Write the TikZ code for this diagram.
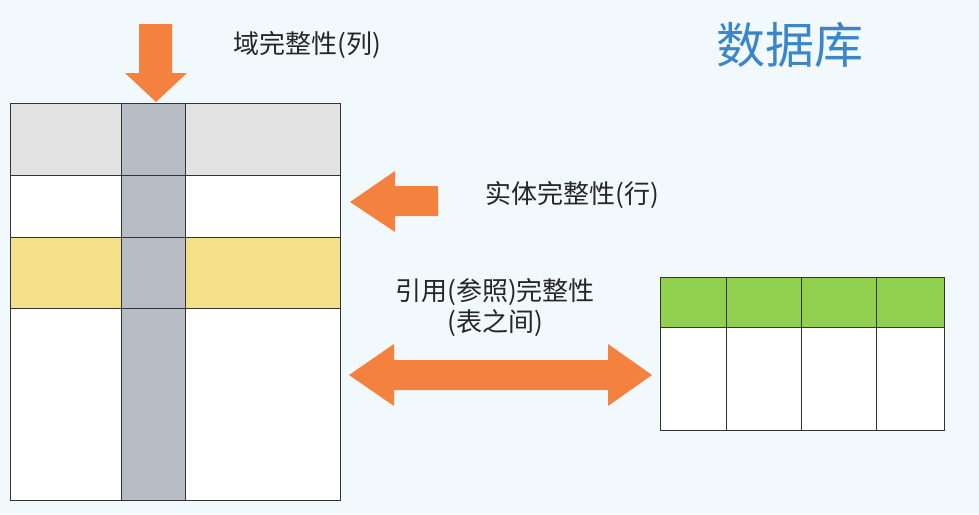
\documentclass[tikz,border=0pt]{standalone}
\usepackage{fontspec}
\setmainfont{Noto Sans CJK SC}
\definecolor{bgblue}{HTML}{F2F9FC}
\definecolor{arroworange}{HTML}{F5813F}
\definecolor{cellgray}{HTML}{E3E3E3}
\definecolor{colgray}{HTML}{B8BCC4}
\definecolor{rowyellow}{HTML}{F5E08A}
\definecolor{headgreen}{HTML}{92D050}
\definecolor{titleblue}{HTML}{3A86C8}
\begin{document}
\begin{tikzpicture}[x=1pt,y=-1pt]
    \tikzstyle{cell}  = [draw=black!80,line width=1pt]
    \tikzstyle{label} = [font=\fontsize{26}{31}\selectfont,text=black!85]
    \tikzstyle{arrowbody} = [fill=arroworange,draw=none]
    \fill[bgblue] (0,0) rectangle (979,514);
    \useasboundingbox (0,0) rectangle (979,514);
    % left table
    \fill[cellgray] (10,103) rectangle (340,175);
    \fill[rowyellow] (10,237) rectangle (340,308);
    \fill[white] (10,175) rectangle (340,237);
    \fill[white] (10,308) rectangle (340,500);
    \fill[colgray] (121,103) rectangle (185,500);
    \draw[cell] (10,103) rectangle (340,500);
    \foreach \y in {175,237,308} \draw[cell] (10,\y) -- (340,\y);
    \foreach \x in {121,185} \draw[cell] (\x,103) -- (\x,500);
    % right table
    \fill[white] (660,327) rectangle (944,430);
    \fill[headgreen] (660,277) rectangle (944,327);
    \draw[cell] (660,277) rectangle (944,430);
    \draw[cell] (660,327) -- (944,327);
    \foreach \x in {726,801,876} \draw[cell] (\x,277) -- (\x,430);
    % arrows
    \fill[arrowbody] (139,24) -- (172,24) -- (172,73) -- (187,73) -- (156,102)
      -- (125,73) -- (139,73) -- cycle;
    \fill[arrowbody] (350,202) -- (395,171) -- (395,186) -- (438,186) -- (438,216)
      -- (395,216) -- (395,232) -- cycle;
    \fill[arrowbody] (349,375) -- (394,344) -- (394,360) -- (608,360) -- (608,344)
      -- (652,375) -- (608,406) -- (608,390) -- (394,390) -- (394,406) -- cycle;
    % labels
    \node[label] (collabel) at (307,45) {域完整性(列)};
    \node[label] (rowlabel) at (572,195) {实体完整性(行)};
    \node[label] (reflabel) at (495,292) {引用(参照)完整性};
    \node[label] (refsub) at (495,323) {(表之间)};
    \node[font=\fontsize{49}{56}\selectfont,text=titleblue] (title) at (790,45) {数据库};
\end{tikzpicture}
\end{document}
